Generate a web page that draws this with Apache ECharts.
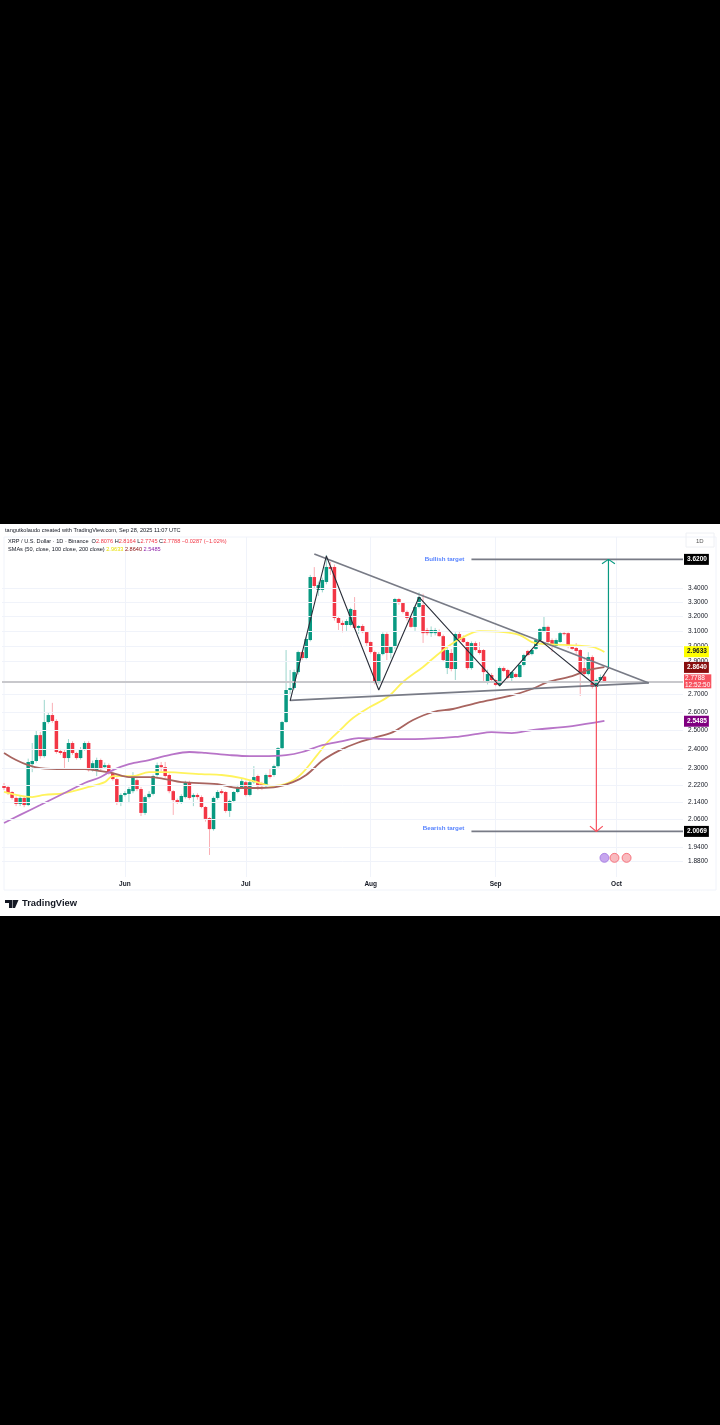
<!DOCTYPE html>
<html><head><meta charset="utf-8">
<style>
html,body{margin:0;padding:0;background:#000;width:720px;height:1425px;overflow:hidden}
#c{position:absolute;left:0;top:524px;width:720px;height:392px;background:#fff;filter:blur(0.65px)}
</style>
<script src="https://cdn.jsdelivr.net/npm/echarts@6/dist/echarts.min.js"></script>
</head><body><div id="c"></div>
<script>
const opens=[2.219,2.210,2.186,2.158,2.130,2.158,2.125,2.322,2.338,2.473,
2.363,2.544,2.583,2.550,2.389,2.384,2.353,2.431,2.379,2.353,
2.399,2.431,2.292,2.292,2.343,2.307,2.317,2.277,2.248,2.139,
2.172,2.177,2.190,2.243,2.200,2.089,2.162,2.177,2.268,2.317,
2.307,2.268,2.190,2.148,2.139,2.162,2.233,2.162,2.172,2.162,
2.116,2.066,2.017,2.158,2.190,2.186,2.098,2.144,2.186,2.210,
2.233,2.172,2.233,2.263,2.229,2.214,2.268,2.268,2.312,2.404,
2.544,2.727,2.739,2.835,2.961,2.923,3.039,3.484,3.388,3.388,
3.447,3.561,3.561,3.188,3.154,3.140,3.140,3.244,3.120,3.133,
3.092,3.026,2.961,2.769,2.948,3.079,2.955,2.994,3.322,3.293,
3.230,3.188,3.127,3.265,3.279,3.106,3.085,3.085,3.092,3.065,
2.860,2.955,2.854,3.079,3.052,3.026,2.860,3.019,2.974,2.974,
2.769,2.817,2.787,2.757,2.860,2.848,2.799,2.823,2.805,2.879,
2.968,2.948,2.981,3.039,3.099,3.127,3.039,3.000,3.026,3.085,
3.085,2.994,2.987,2.974,2.860,2.823,2.929,2.745,2.787,2.8076];
const closes=[2.205,2.181,2.158,2.130,2.158,2.125,2.333,2.338,2.473,2.363,
2.544,2.583,2.550,2.384,2.379,2.353,2.431,2.379,2.353,2.399,
2.431,2.292,2.327,2.343,2.297,2.317,2.277,2.248,2.139,2.172,
2.181,2.200,2.258,2.200,2.089,2.162,2.177,2.263,2.317,2.307,
2.263,2.190,2.148,2.139,2.167,2.233,2.158,2.172,2.162,2.116,
2.062,2.017,2.158,2.186,2.181,2.098,2.144,2.186,2.210,2.238,
2.172,2.233,2.258,2.214,2.214,2.268,2.258,2.312,2.404,2.544,
2.727,2.739,2.835,2.961,2.923,3.046,3.484,3.417,3.424,3.462,
3.561,3.546,3.188,3.154,3.140,3.167,3.251,3.120,3.133,3.092,
3.019,2.961,2.769,2.948,3.079,2.955,2.994,3.322,3.293,3.230,
3.188,3.127,3.265,3.336,3.085,3.085,3.106,3.106,3.065,2.910,
2.974,2.854,3.079,3.039,3.026,2.860,3.019,2.974,2.955,2.835,
2.823,2.787,2.757,2.860,2.842,2.799,2.835,2.805,2.879,2.942,
2.942,2.974,3.039,3.113,3.127,3.026,2.994,3.039,3.085,3.079,
2.994,2.981,2.968,2.835,2.823,2.929,2.745,2.787,2.805,2.7788];
const highs=[2.229,2.219,2.190,2.165,2.170,2.165,2.350,2.431,2.500,2.490,
2.669,2.600,2.652,2.560,2.400,2.395,2.452,2.440,2.385,2.410,
2.440,2.440,2.340,2.355,2.350,2.330,2.325,2.285,2.255,2.180,
2.190,2.210,2.282,2.250,2.210,2.170,2.190,2.270,2.330,2.333,
2.333,2.275,2.195,2.155,2.175,2.240,2.240,2.180,2.180,2.170,
2.120,2.070,2.165,2.195,2.200,2.190,2.150,2.190,2.220,2.250,
2.240,2.240,2.312,2.270,2.235,2.275,2.300,2.320,2.410,2.550,
2.974,2.848,2.850,2.970,2.970,3.060,3.500,3.560,3.450,3.480,
3.655,3.600,3.580,3.200,3.170,3.180,3.260,3.336,3.140,3.145,
3.100,3.030,2.970,2.960,3.090,3.090,3.000,3.330,3.330,3.300,
3.240,3.200,3.275,3.370,3.360,3.120,3.130,3.120,3.110,3.075,
2.990,2.980,3.090,3.100,3.070,3.030,3.030,3.030,3.026,2.980,
2.850,2.830,2.795,2.870,2.870,2.855,2.840,2.830,2.885,2.950,
2.975,2.980,3.050,3.120,3.195,3.135,3.050,3.050,3.100,3.100,
3.090,3.000,3.019,2.980,2.929,2.960,2.940,2.795,2.820,2.8164];
const lows=[2.195,2.172,2.150,2.120,2.120,2.115,2.120,2.282,2.330,2.350,
2.355,2.535,2.540,2.375,2.370,2.302,2.333,2.370,2.345,2.345,
2.390,2.285,2.285,2.263,2.290,2.300,2.270,2.240,2.125,2.120,
2.165,2.134,2.180,2.190,2.075,2.080,2.155,2.170,2.260,2.287,
2.255,2.180,2.080,2.130,2.130,2.155,2.150,2.120,2.150,2.110,
2.050,1.907,2.010,2.150,2.175,2.090,2.071,2.140,2.180,2.205,
2.165,2.165,2.225,2.195,2.195,2.210,2.250,2.260,2.305,2.400,
2.540,2.700,2.730,2.820,2.910,2.915,3.030,3.400,3.344,3.370,
3.430,3.500,3.170,3.106,3.090,3.100,3.130,3.110,3.080,3.085,
3.000,2.950,2.760,2.760,2.940,2.910,2.920,2.980,3.280,3.220,
3.170,3.120,3.100,3.255,3.020,3.070,3.060,3.070,3.060,2.900,
2.823,2.840,2.787,3.030,3.020,2.850,2.850,2.965,2.945,2.781,
2.760,2.775,2.750,2.750,2.835,2.790,2.775,2.800,2.800,2.870,
2.935,2.940,2.975,3.030,3.090,3.020,2.961,2.990,3.020,3.070,
2.985,2.975,2.950,2.692,2.815,2.815,2.735,2.735,2.780,2.7745];

// moving averages as knots: [bar index, price]
const sma50=[[0,2.186],[3,2.172],[7,2.162],[10,2.172],[15,2.181],[21,2.210],[25,2.233],[27,2.263],[32,2.263],[36,2.282],[40,2.282],[49,2.272],[54,2.268],[59,2.253],[63.5,2.229],[66.7,2.214],[71,2.233],[74,2.277],[77.7,2.368],[80.1,2.431],[83.4,2.500],[86.6,2.566],[90.8,2.628],[95.3,2.687],[99,2.775],[104,2.867],[106,2.910],[110,2.994],[114,3.059],[118,3.099],[124,3.092],[128,3.072],[131,3.026],[134,3.013],[139,3.007],[146,2.994],[149,2.961]];
const sma100=[[0,2.379],[3,2.343],[6,2.317],[9,2.302],[15,2.297],[20,2.297],[24,2.287],[27,2.277],[31,2.258],[36,2.258],[40,2.248],[44,2.233],[53,2.224],[58,2.205],[63.5,2.205],[67.7,2.210],[71.7,2.233],[75,2.268],[79.2,2.343],[83.4,2.394],[87.6,2.431],[91.6,2.457],[96.5,2.489],[101.5,2.555],[106.5,2.600],[111.4,2.617],[117.4,2.652],[125.5,2.692],[131,2.733],[135,2.775],[141,2.811],[145,2.848],[149,2.866]];
const sma200=[[0,2.044],[4,2.080],[9,2.125],[15,2.181],[20,2.229],[24,2.258],[27,2.292],[31,2.322],[36,2.343],[41,2.368],[46,2.384],[50,2.379],[56,2.368],[61,2.363],[64,2.363],[70,2.368],[74,2.384],[79,2.420],[84,2.441],[88,2.457],[96,2.452],[102,2.452],[112,2.463],[117,2.478],[121,2.489],[126,2.484],[131,2.500],[141,2.522],[149,2.550]];

const zigzag=[[71,2.663],[80,3.647],[93,2.727],[103,3.336],[123,2.751],[133,3.039],[147,2.751],[150,2.860]];
const upperTrend=[[77,3.663],[160,2.769]];
const lowerTrend=[[71,2.666],[160,2.769]];
const bullTarget=3.62, bearTarget=2.0069, lastPrice=2.7788;
const bullLine=[[116,bullTarget],[168.5,bullTarget]];
const bearLine=[[116,bearTarget],[168.5,bearTarget]];
const bullArrow=[[150,2.866],[150,bullTarget]];
const bullHead=[[148.4,3.585],[150,bullTarget],[151.6,3.585]];
const bearArrow=[[147,2.751],[147,bearTarget]];
const bearHead=[[145.4,2.03],[147,bearTarget],[148.6,2.03]];
const events=[[149,1.895,'#b388e8'],[151.5,1.895,'#f7a3a8'],[154.5,1.895,'#f7a3a8']];

const priceTicks=[3.4,3.3,3.2,3.1,3.0,2.9,2.7,2.6,2.5,2.4,2.3,2.22,2.14,2.06,1.94,1.88];
const monthTicks=[30,60,91,122,152];
const monthNames=['Jun','Jul','Aug','Sep','Oct'];
const sma50Last=2.9633, sma100Last=2.8640, sma200Last=2.5485;

const BAR_SLOTS=169;
const cats=[];for(let i=0;i<BAR_SLOTS;i++)cats.push('d'+i);
const candle=opens.map((o,i)=>[i,o,closes[i],lows[i],highs[i]]);
const G='#089981',R='#f23645',GREY='#787b86';
const gap=(d,c,w)=>({type:'line',xAxisIndex:1,yAxisIndex:0,data:d,symbol:'none',silent:true,lineStyle:{color:c,width:w},z:5});
const sma=(d,c)=>({type:'line',xAxisIndex:1,yAxisIndex:0,data:d,symbol:'none',smooth:0.35,silent:true,lineStyle:{color:c,width:1.8},z:4});
const tag=(v,t,bg,fg)=>({yAxis:v,lineStyle:{color:'transparent',width:0},label:{show:true,opacity:1,position:'end',distance:1,formatter:t,backgroundColor:bg,color:fg,fontSize:6.5,padding:[2,2,2,3],lineHeight:7,fontFamily:'Liberation Sans',fontWeight:'bold'}});

const renderCandle=(params,api)=>{
  const i=api.value(0),o=api.value(1),c=api.value(2),l=api.value(3),h=api.value(4);
  const x=api.coord([i,o])[0],yo=api.coord([i,o])[1],yc=api.coord([i,c])[1],yl=api.coord([i,l])[1],yh=api.coord([i,h])[1];
  const col=c>=o?G:R,top=Math.min(yo,yc),ht=Math.max(Math.abs(yo-yc),1);
  return {type:'group',children:[
    {type:'line',shape:{x1:x,y1:yh,x2:x,y2:yl},style:{stroke:col,lineWidth:1,opacity:0.4}},
    {type:'rect',shape:{x:x-1.75,y:top,width:3.5,height:ht},style:{fill:col}}
  ]};
};

const chart=echarts.init(document.getElementById('c'),null,{renderer:'canvas'});
const txt=(x,y,rich,text,extra)=>({type:'text',left:x,top:y,silent:true,z:50,style:Object.assign({text,fontSize:5.6,fontFamily:'Liberation Sans',fill:'#131722',rich},extra||{})});
const r=c=>({fill:c,fontSize:5.6,fontFamily:'Liberation Sans'});
chart.setOption({
 animation:false,backgroundColor:'#fff',
 grid:{left:2,top:13,width:681,height:340,show:false},
 xAxis:[
  {type:'category',data:cats,show:false,boundaryGap:true},
  {type:'value',min:-0.5,max:168.5,position:'bottom',axisLine:{show:false},
   axisTick:{show:false,customValues:monthTicks},
   axisLabel:{customValues:monthTicks,formatter:v=>monthNames[monthTicks.indexOf(v)]||'',fontSize:6.5,color:'#131722',margin:4,fontFamily:'Liberation Sans',fontWeight:'bold'},
   splitLine:{show:true,lineStyle:{color:'#f0f3fa',width:1}}}
 ],
 yAxis:{type:'log',min:1.818,max:3.8,position:'right',show:true,axisLine:{show:false},axisTick:{show:false},axisLabel:{show:false},splitLine:{show:false}},
 graphic:[
  {type:'rect',shape:{x:4,y:13,width:712,height:353},style:{fill:'none',stroke:'#f0f3fa',lineWidth:1},silent:true,z:0},
  {type:'rect',shape:{x:686,y:9,width:28,height:14},style:{fill:'none',stroke:'#eef0f4',lineWidth:1},silent:true,z:0},
  txt(5,3,{},'tangutkolaudo created with TradingView.com, Sep 28, 2025 11:07 UTC'),
  txt(8,14,{a:r('#131722'),b:r(R)},'{a|XRP / U.S. Dollar · 1D · Binance  O}{b|2.8076} {a|H}{b|2.8164} {a|L}{b|2.7745} {a|C}{b|2.7788} {b|−0.0287 (−1.02%)}'),
  txt(8,22,{a:r('#131722'),y:r('#e8e000'),m:r('#880e0e'),p:r('#8e24aa')},'{a|SMAs (50, close, 100 close, 200 close)} {y|2.9633} {m|2.8640} {p|2.5485}'),
  txt(696,14,{},'1D',{fontSize:6,fill:'#555'}),
  {type:'polygon',shape:{points:[[5,376],[12,376],[12,384],[9,384],[9,379],[5,379]]},style:{fill:'#131722'},silent:true,z:50},
  {type:'polygon',shape:{points:[[12.5,376],[18.5,376],[15,384],[12.5,384]]},style:{fill:'#131722'},silent:true,z:50},
  {type:'text',left:22,top:374.5,silent:true,z:50,style:{text:'TradingView',fontSize:9.4,fontWeight:'bold',fontFamily:'Liberation Sans',fill:'#131722'}}
 ],
 series:[
  {type:'line',xAxisIndex:0,yAxisIndex:0,data:[],silent:true,z:1,
   markLine:{silent:true,symbol:'none',animation:false,precision:4,
    lineStyle:{color:'#f0f3fa',width:1,type:'solid'},
    label:{show:true,position:'end',distance:5,fontSize:6.5,color:'#131722',fontFamily:'Liberation Sans',formatter:p=>Number(p.value).toFixed(4)},
    data:priceTicks.map(v=>({yAxis:v}))}},
  {type:'custom',xAxisIndex:0,yAxisIndex:0,data:candle,renderItem:renderCandle,encode:{x:0,y:[1,2,3,4]},silent:true,z:3},
  sma(sma50,'#fff35c'),sma(sma100,'#a8645f'),sma(sma200,'#b874c8'),
  {type:'line',xAxisIndex:0,yAxisIndex:0,data:[],silent:true,z:6,
   markLine:{silent:true,symbol:'none',animation:false,precision:4,
    lineStyle:{color:'#c8c8cc',width:2,type:'solid'},
    label:{show:false},
    data:[
     {yAxis:lastPrice,label:{show:true,position:'end',distance:1,formatter:'2.7788\n12:52:50',backgroundColor:'#f7525f',color:'#fff',fontSize:6.5,lineHeight:7,padding:[0,1,0,1],fontFamily:'Liberation Sans'}},
     tag(bullTarget,'3.6200','#000','#fff'),
     tag(bearTarget,'2.0069','#000','#fff'),
     tag(sma50Last,'2.9633','#ffff00','#131722'),
     tag(sma100Last,'2.8640','#880e0e','#fff'),
     tag(sma200Last,'2.5485','#800080','#fff')
    ]}},
  gap(upperTrend,GREY,1.7),gap(lowerTrend,GREY,1.7),gap(zigzag,'#2a2e39',1.1),
  gap(bullLine,GREY,1.8),gap(bearLine,GREY,1.8),
  gap(bullArrow,G,1.2),gap(bullHead,G,1.2),
  gap(bearArrow,'#f7525f',1.2),gap(bearHead,'#f7525f',1.2),
  {type:'scatter',xAxisIndex:1,yAxisIndex:0,symbolSize:0.1,silent:true,z:7,itemStyle:{color:'transparent'},
   data:[{value:[115.5,3.62],label:{show:true,position:'left',formatter:'Bullish target',color:'#2962ff',fontSize:6.2,fontWeight:'bold',fontFamily:'Liberation Sans'}},
         {value:[115.5,2.02],label:{show:true,position:'left',formatter:'Bearish target',color:'#2962ff',fontSize:6.2,fontWeight:'bold',fontFamily:'Liberation Sans'}}]},
  {type:'scatter',xAxisIndex:1,yAxisIndex:0,symbolSize:9,silent:true,z:7,
   data:events.map(e=>({value:[e[0],e[1]],itemStyle:{color:e[2],opacity:0.75,borderColor:e[2]==='#b388e8'?'#8e5bd8':'#f23645',borderWidth:0.8}}))}
 ]
});
</script></body></html>
